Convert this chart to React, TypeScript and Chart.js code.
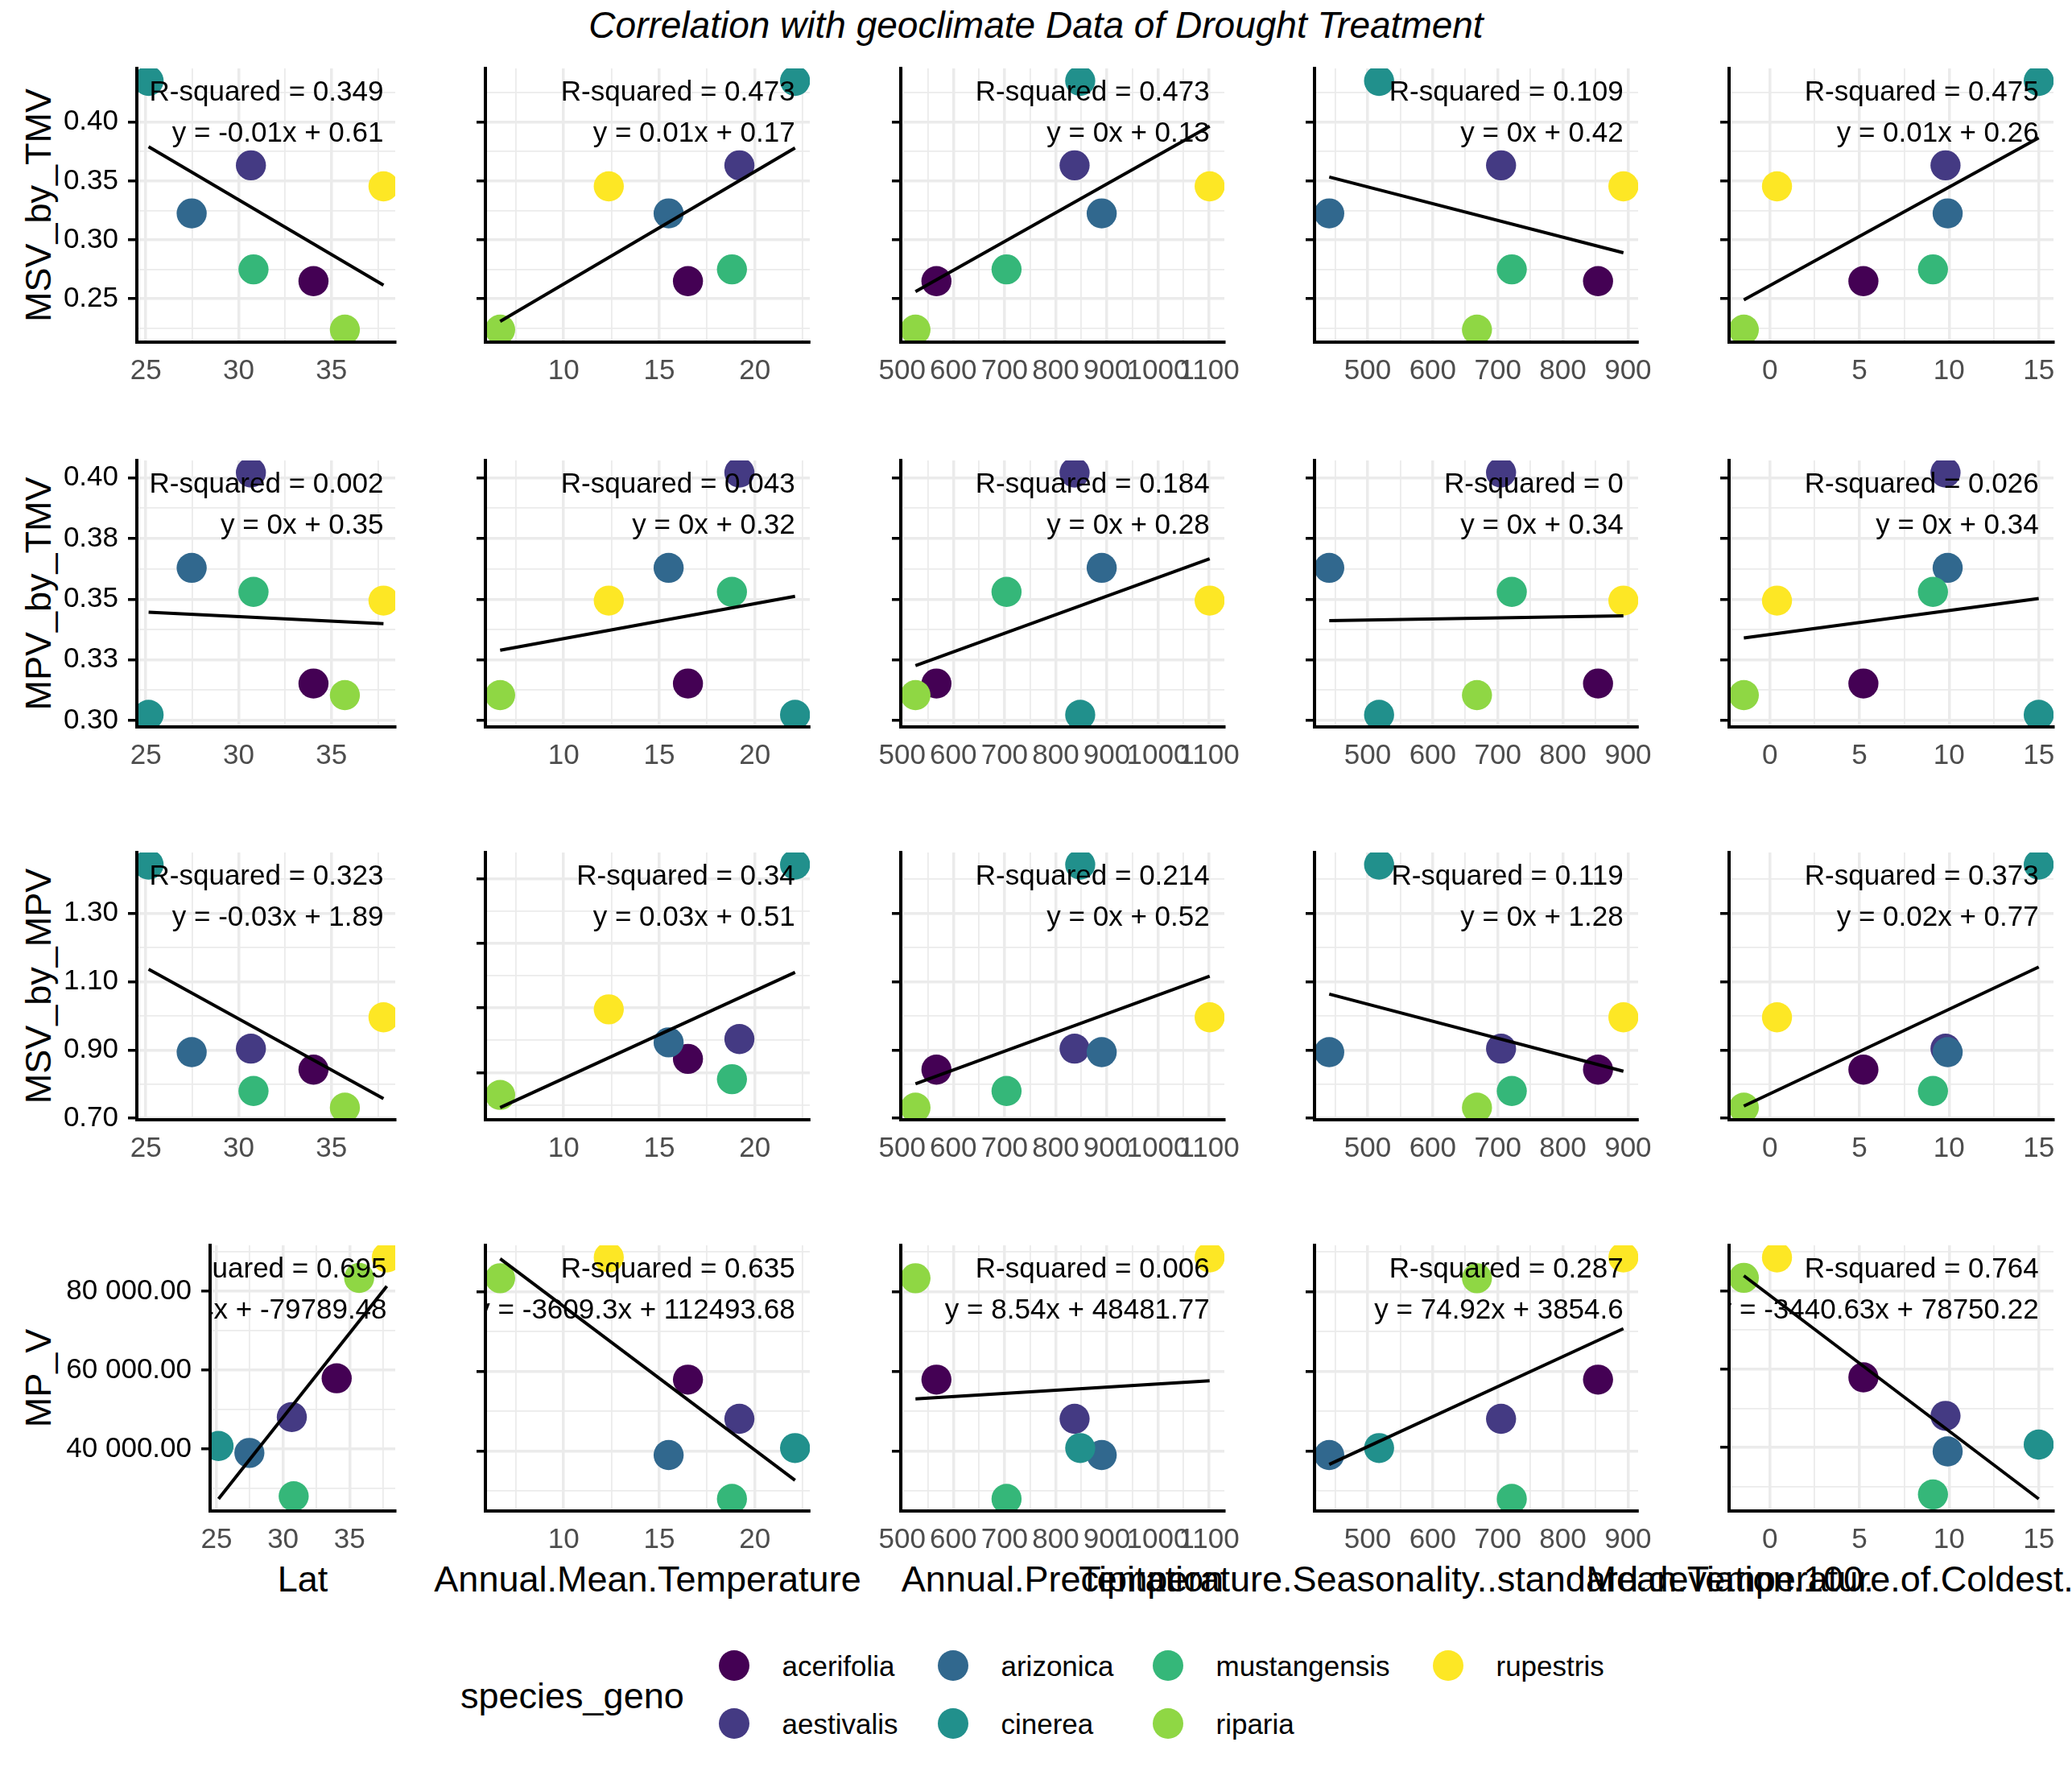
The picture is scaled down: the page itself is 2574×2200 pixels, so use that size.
import React, { useEffect, useRef } from 'react';
import { Chart, registerables } from 'chart.js';

Chart.register(...registerables);

// ---------------- data ----------------
const SPECIES = ['acerifolia', 'aestivalis', 'arizonica', 'cinerea', 'mustangensis', 'riparia', 'rupestris'];
const SPECIES_COLORS = ['#440154', '#443A83', '#31688E', '#21908C', '#35B779', '#8FD744', '#FDE725'];

// x variables (one value per species, same order as SPECIES)
const LAT = [34.03, 30.66, 27.47, 25.15, 30.8, 35.72, 37.8];
const ANNUAL_MEAN_TEMPERATURE = [16.5, 19.19, 15.49, 22.1, 18.8, 6.68, 12.36];
const ANNUAL_PRECIPITATION = [567, 837, 890, 848, 704, 526, 1101];
const TEMPERATURE_SEASONALITY = [854, 705, 441, 517.6, 721.5, 668, 893];
const MEAN_TEMP_COLDEST_QUARTER = [5.22, 9.8, 9.92, 15.0, 9.1, -1.45, 0.4];

// y variables
const MSV_BY_TMV = [0.265, 0.3633, 0.3225, 0.435, 0.275, 0.2238, 0.3455];
const MPV_BY_TMV = [0.3152, 0.4022, 0.3629, 0.3023, 0.353, 0.3104, 0.3494];
const MSV_BY_MPV = [0.8427, 0.904, 0.8937, 1.4427, 0.78, 0.7314, 0.9957];
const MP_V = [57897, 48066, 38981, 40744, 27997, 83322, 88540];

const X_NAMES = [
  'Lat',
  'Annual.Mean.Temperature',
  'Annual.Precipitation',
  'Temperature.Seasonality..standard.deviation.100.',
  'Mean.Temperature.of.Coldest.Quarter',
];
const Y_NAMES = ['MSV_by_TMV', 'MPV_by_TMV', 'MSV_by_MPV', 'MP_V'];

const X_TICKS = [
  [25, 30, 35],
  [10, 15, 20],
  [500, 600, 700, 800, 900, 1000, 1100],
  [500, 600, 700, 800, 900],
  [0, 5, 10, 15],
];
const X_TICK_LABELS = [
  ['25', '30', '35'],
  ['10', '15', '20'],
  ['500', '600', '700', '800', '900', '1000', '1100'],
  ['500', '600', '700', '800', '900'],
  ['0', '5', '10', '15'],
];
const Y_TICKS = [
  [0.25, 0.3, 0.35, 0.4],
  [0.3, 0.325, 0.35, 0.375, 0.4],
  [0.7, 0.9, 1.1, 1.3],
  [40000, 60000, 80000],
];
const Y_TICK_LABELS = [
  ['0.25', '0.30', '0.35', '0.40'],
  ['0.30', '0.33', '0.35', '0.38', '0.40'],
  ['0.70', '0.90', '1.10', '1.30'],
  ['40 000.00', '60 000.00', '80 000.00'],
];
// the MSV_by_MPV vs Annual.Mean.Temperature panel has its own breaks
const Y_TICKS_MSV_MPV_AMT = [0.8, 1.0, 1.2, 1.4];

const R2_LABELS = [
  ['R-squared = 0.349', 'R-squared = 0.473', 'R-squared = 0.473', 'R-squared = 0.109', 'R-squared = 0.475'],
  ['R-squared = 0.002', 'R-squared = 0.043', 'R-squared = 0.184', 'R-squared = 0', 'R-squared = 0.026'],
  ['R-squared = 0.323', 'R-squared = 0.34', 'R-squared = 0.214', 'R-squared = 0.119', 'R-squared = 0.373'],
  ['R-squared = 0.695', 'R-squared = 0.635', 'R-squared = 0.006', 'R-squared = 0.287', 'R-squared = 0.764'],
];
const EQ_LABELS = [
  ['y = -0.01x + 0.61', 'y = 0.01x + 0.17', 'y = 0x + 0.13', 'y = 0x + 0.42', 'y = 0.01x + 0.26'],
  ['y = 0x + 0.35', 'y = 0x + 0.32', 'y = 0x + 0.28', 'y = 0x + 0.34', 'y = 0x + 0.34'],
  ['y = -0.03x + 1.89', 'y = 0.03x + 0.51', 'y = 0x + 0.52', 'y = 0x + 1.28', 'y = 0.02x + 0.77'],
  ['y = 4259.84x + -79789.48', 'y = -3609.3x + 112493.68', 'y = 8.54x + 48481.77', 'y = 74.92x + 3854.6', 'y = -3440.63x + 78750.22'],
];

const TITLE = 'Correlation with geoclimate Data of Drought Treatment';
const LEGEND_TITLE = 'species_geno';

const X_DATA = [LAT, ANNUAL_MEAN_TEMPERATURE, ANNUAL_PRECIPITATION, TEMPERATURE_SEASONALITY, MEAN_TEMP_COLDEST_QUARTER];
const Y_DATA = [MSV_BY_TMV, MPV_BY_TMV, MSV_BY_MPV, MP_V];

// ---------------- layout ----------------
const W = 2574;
const H = 2200;
const FONT = '"Liberation Sans", Arial, Helvetica, sans-serif';
const COL_LEFT = [170, 603, 1119, 1633, 2148];
const COL_RIGHT = [491, 1006, 1521, 2035, 2551];
const LAST_ROW_FIRST_LEFT = 261;
const ROW_TOP = [85, 572, 1059, 1547];
const ROW_BOTTOM = [425, 903, 1391, 1877];
const LEGEND_COL_X = [912, 1184, 1451, 1799];
const LEGEND_ROW_Y = [2069, 2141];

function fitLine(xs: number[], ys: number[]) {
  const n = xs.length;
  const mx = xs.reduce((a, b) => a + b, 0) / n;
  const my = ys.reduce((a, b) => a + b, 0) / n;
  let sxy = 0;
  let sxx = 0;
  for (let i = 0; i < n; i++) {
    sxy += (xs[i] - mx) * (ys[i] - my);
    sxx += (xs[i] - mx) * (xs[i] - mx);
  }
  const slope = sxy / sxx;
  return { slope, intercept: my - slope * mx };
}

type Tk = { value: number; lab: string; minor: boolean };

function buildTicks(major: number[], labels: string[] | null, min: number, max: number): Tk[] {
  const step = major[1] - major[0];
  const out: Tk[] = [];
  const eps = 1e-9 * Math.max(1, Math.abs(max));
  major.forEach((v, i) => {
    if (v >= min - eps && v <= max + eps) out.push({ value: v, lab: labels ? labels[i] : '', minor: false });
  });
  const minors = [major[0] - step / 2, ...major.map((v) => v + step / 2)];
  minors.forEach((v) => {
    if (v >= min - eps && v <= max + eps) out.push({ value: v, lab: '', minor: true });
  });
  out.sort((a, b) => a.value - b.value);
  return out;
}

const panelTextPlugin = {
  id: 'panelText',
  afterDatasetDraw(chart: any, args: any, opts: any) {
    if (args.index !== 1) return;
    const { ctx, chartArea } = chart;
    const x = chart.scales.x.getPixelForValue(opts.xAnchor);
    ctx.save();
    ctx.beginPath();
    ctx.rect(chartArea.left, chartArea.top, chartArea.right - chartArea.left, chartArea.bottom - chartArea.top);
    ctx.clip();
    ctx.font = `35px ${FONT}`;
    ctx.fillStyle = '#000';
    ctx.textAlign = 'right';
    ctx.textBaseline = 'alphabetic';
    ctx.fillText(opts.r2, x, chartArea.top + 40);
    ctx.fillText(opts.eq, x, chartArea.top + 91);
    ctx.restore();
  },
};

function Panel({ row, col }: { row: number; col: number }) {
  const ref = useRef<HTMLCanvasElement>(null);
  const L = row === 3 && col === 0 ? LAST_ROW_FIRST_LEFT : COL_LEFT[col];
  const R = COL_RIGHT[col];
  const T = ROW_TOP[row];
  const B = ROW_BOTTOM[row];
  const padL = col === 0 ? (row === 3 ? 200 : 110) : 40;
  const padR = 45;
  const padT = 10;
  const padB = 70;
  const cw = padL + (R - L) + padR;
  const ch = padT + (B - T) + padB;

  useEffect(() => {
    const xs = X_DATA[col];
    const ys = Y_DATA[row];
    const { slope, intercept } = fitLine(xs, ys);
    const xmin = Math.min(...xs);
    const xmax = Math.max(...xs);
    const lineY0 = intercept + slope * xmin;
    const lineY1 = intercept + slope * xmax;
    const yAll = [...ys, lineY0, lineY1];
    const ylo = Math.min(...yAll);
    const yhi = Math.max(...yAll);
    const yr = yhi - ylo;
    const xr = xmax - xmin;
    const xMinL = xmin - 0.05 * xr;
    const xMaxL = xmax + 0.05 * xr;
    const yMinL = ylo - 0.05 * yr;
    const yMaxL = yhi + 0.05 * yr;

    const yMajor = row === 2 && col === 1 ? Y_TICKS_MSV_MPV_AMT : Y_TICKS[row];
    const yLabels = col === 0 ? Y_TICK_LABELS[row] : null;
    const yTicks = buildTicks(yMajor, yLabels, yMinL, yMaxL);
    const xTicks = buildTicks(X_TICKS[col], X_TICK_LABELS[col], xMinL, xMaxL);

    const chart = new Chart(ref.current as HTMLCanvasElement, {
      type: 'scatter',
      data: {
        datasets: [
          {
            type: 'line',
            data: [
              { x: xmin, y: lineY0 },
              { x: xmax, y: lineY1 },
            ],
            borderColor: '#000',
            borderWidth: 4,
            pointRadius: 0,
            fill: false,
            tension: 0,
            order: 0,
            clip: 0,
          } as any,
          {
            type: 'scatter',
            data: xs.map((x, i) => ({ x, y: ys[i] })),
            pointRadius: 18.7,
            pointHoverRadius: 18.7,
            pointBackgroundColor: SPECIES_COLORS,
            pointBorderColor: SPECIES_COLORS,
            pointBorderWidth: 0,
            order: 1,
            clip: 0,
          } as any,
        ],
      },
      options: {
        animation: false,
        responsive: false,
        devicePixelRatio: 1,
        events: [],
        layout: { autoPadding: false, padding: { left: 0, right: padR, top: padT, bottom: 0 } } as any,
        plugins: {
          legend: { display: false },
          tooltip: { enabled: false },
          panelText: { xAnchor: xmax, r2: R2_LABELS[row][col], eq: EQ_LABELS[row][col] },
        } as any,
        scales: {
          x: {
            type: 'linear',
            min: xMinL,
            max: xMaxL,
            afterBuildTicks: (s: any) => {
              s.ticks = xTicks.map((t) => ({ ...t }));
            },
            afterFit: (s: any) => {
              s.height = padB;
              s.paddingLeft = 0;
              s.paddingRight = 0;
            },
            grid: {
              color: '#EBEBEB',
              lineWidth: (c: any) => (c.tick && c.tick.minor ? 1.8 : 3.5),
              drawTicks: false,
            },
            border: { display: true, color: '#000', width: 4, z: 1 },
            ticks: {
              autoSkip: false,
              maxRotation: 0,
              minRotation: 0,
              padding: 15,
              color: '#4D4D4D',
              font: { family: FONT, size: 35 },
              callback: (v: any, i: number, t: any[]) => (t[i] && t[i].lab) || '',
            },
          },
          y: {
            type: 'linear',
            min: yMinL,
            max: yMaxL,
            afterBuildTicks: (s: any) => {
              s.ticks = yTicks.map((t) => ({ ...t }));
            },
            afterFit: (s: any) => {
              s.width = padL;
              s.paddingTop = 0;
              s.paddingBottom = 0;
            },
            grid: {
              color: '#EBEBEB',
              lineWidth: (c: any) => (c.tick && c.tick.minor ? 1.8 : 3.5),
              drawTicks: true,
              tickLength: 11,
              tickWidth: 3.5,
              tickColor: (c: any) => (c.tick && c.tick.minor ? 'rgba(0,0,0,0)' : '#000'),
            },
            border: { display: true, color: '#000', width: 4, z: 1 },
            ticks: {
              autoSkip: false,
              padding: 12,
              color: '#000',
              font: { family: FONT, size: 35 },
              callback: (v: any, i: number, t: any[]) => (t[i] && t[i].lab) || '',
            },
          },
        } as any,
      },
      plugins: [panelTextPlugin as any],
    });
    return () => chart.destroy();
  }, [row, col]);

  return (
    <canvas
      ref={ref}
      width={cw}
      height={ch}
      style={{ position: 'absolute', left: L - padL, top: T - padT, width: cw, height: ch }}
    />
  );
}

export default function App() {
  const panels: React.ReactNode[] = [];
  for (let r = 0; r < 4; r++) {
    for (let c = 0; c < 5; c++) {
      panels.push(<Panel key={`${r}-${c}`} row={r} col={c} />);
    }
  }
  const xTitleCenters = X_NAMES.map((_, c) => ((c === 0 ? LAST_ROW_FIRST_LEFT : COL_LEFT[c]) + COL_RIGHT[c]) / 2);
  return (
    <div style={{ position: 'absolute', left: 0, top: 0, width: W, height: H, background: '#fff', overflow: 'hidden' }}>
      <svg width={W} height={H} style={{ position: 'absolute', left: 0, top: 0 }} fontFamily={FONT}>
        <text x={W / 2} y={47} textAnchor="middle" fontSize={46} fontStyle="italic" fill="#000">
          {TITLE}
        </text>
        {Y_NAMES.map((n, r) => (
          <text
            key={n}
            transform={`translate(63 ${(ROW_TOP[r] + ROW_BOTTOM[r]) / 2}) rotate(-90)`}
            textAnchor="middle"
            fontSize={45}
            fill="#000"
          >
            {n}
          </text>
        ))}
        {X_NAMES.map((n, c) => (
          <text key={n} x={xTitleCenters[c]} y={1977} textAnchor="middle" fontSize={45} fill="#000">
            {n}
          </text>
        ))}
        <text x={572} y={2122} fontSize={45} fill="#000">
          {LEGEND_TITLE}
        </text>
        {SPECIES.map((s, i) => {
          const cx = LEGEND_COL_X[Math.floor(i / 2)];
          const cy = LEGEND_ROW_Y[i % 2];
          return (
            <g key={s}>
              <circle cx={cx} cy={cy} r={19} fill={SPECIES_COLORS[i]} />
              <text x={cx + 59.5} y={cy + 12.7} fontSize={35} fill="#000">
                {s}
              </text>
            </g>
          );
        })}
      </svg>
      {panels}
    </div>
  );
}
